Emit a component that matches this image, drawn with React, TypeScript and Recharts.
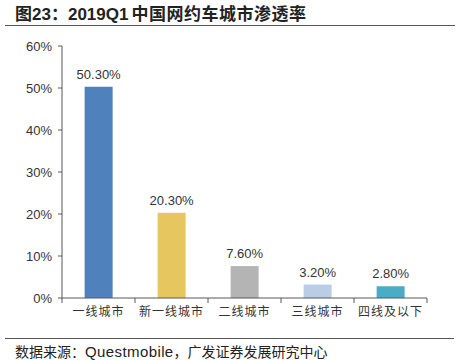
import React from 'react';
import { BarChart, Bar, XAxis, YAxis, Cell, LabelList } from 'recharts';

const categories = ['一线城市', '新一线城市', '二线城市', '三线城市', '四线及以下'];
const values = [50.3, 20.3, 7.6, 3.2, 2.8];
const colors = ['#4F81BD', '#E6C65E', '#B4B4B4', '#B9CDE5', '#4BACC6'];
const yTicks = [0, 10, 20, 30, 40, 50, 60];

const data = categories.map((c, i) => ({ name: c, value: values[i] }));

const PLOT_LEFT = 62;
const PLOT_RIGHT = 427;
const BAND = (PLOT_RIGHT - PLOT_LEFT) / categories.length;

const CJK = "'Noto Sans CJK SC', sans-serif";
const LAT = "Arial, 'Liberation Sans', sans-serif";

const XTick = (props: any) => {
  const { x, y, payload, index } = props;
  const half = BAND / 2;
  return (
    <g>
      <line x1={x - half} x2={x - half} y1={y - 8} y2={y - 3} stroke="#595959" />
      {index === categories.length - 1 && (
        <line x1={x + half} x2={x + half} y1={y - 8} y2={y - 3} stroke="#595959" />
      )}
      <text x={x} y={y + 10} textAnchor="middle" fontSize={12} fill="#333"
        fontFamily={CJK} letterSpacing={1}>
        {payload.value}
      </text>
    </g>
  );
};

export default function App() {
  return (
    <div style={{ position: 'absolute', left: 0, top: 0, width: 459, height: 360, background: '#fff', overflow: 'hidden' }}>
      <div style={{ position: 'absolute', left: 0, top: 0 }}>
        <BarChart width={459} height={330} data={data}
          margin={{ top: 46, right: 459 - PLOT_RIGHT, bottom: 0, left: 12 }}
          barCategoryGap="31%">
          <XAxis dataKey="name" height={32} stroke="#595959" tickLine={false} tick={<XTick />} interval={0} />
          <YAxis width={50} domain={[0, 60]} ticks={yTicks} stroke="#595959" tickSize={4} tickMargin={6}
            tickFormatter={(v: number) => `${v}%`}
            tick={{ fontSize: 13, fill: '#333', fontFamily: LAT }} />
          <Bar dataKey="value" isAnimationActive={false}>
            {data.map((d, i) => <Cell key={d.name} fill={colors[i]} />)}
            <LabelList dataKey="value" position="top" offset={8}
              formatter={(v: number) => `${v.toFixed(2)}%`}
              style={{ fontSize: 13, fill: '#333', fontFamily: LAT }} />
          </Bar>
        </BarChart>
      </div>
      <svg width={459} height={360} style={{ position: 'absolute', left: 0, top: 0, pointerEvents: 'none' }}>
        <text x={15} y={20} fontSize={17} fontWeight="bold" fill="#222">
          <tspan fontFamily={CJK}>图</tspan>
          <tspan fontFamily={LAT}>23</tspan>
          <tspan fontFamily={CJK}>：</tspan>
          <tspan fontFamily={LAT}>2019Q1</tspan>
          <tspan fontFamily={CJK} dx={3} letterSpacing={0.5}>中国网约车城市渗透率</tspan>
        </text>
        <line x1={5} x2={455} y1={25.5} y2={25.5} stroke="#555" strokeWidth={1} />
        <line x1={5} x2={454} y1={338.5} y2={338.5} stroke="#555" strokeWidth={1} />
        <text x={15} y={356.5} fontSize={14} fill="#222">
          <tspan fontFamily={CJK}>数据来源：</tspan>
          <tspan fontFamily={LAT} fontSize={15} letterSpacing={0.4}>Questmobile</tspan>
          <tspan fontFamily={CJK}>，广发证券发展研究中心</tspan>
        </text>
      </svg>
    </div>
  );
}
